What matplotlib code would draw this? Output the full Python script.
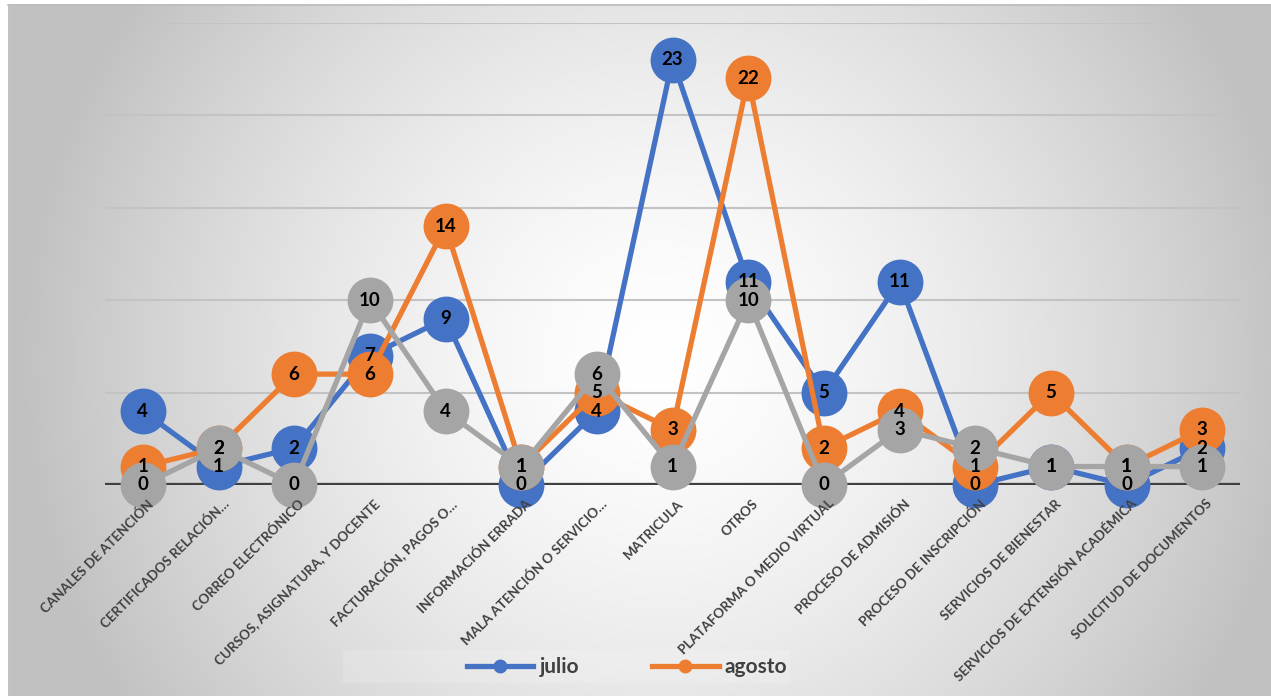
import numpy as np
import matplotlib
matplotlib.use("Agg")
import matplotlib.pyplot as plt
import matplotlib.transforms as mtransforms
from matplotlib.patches import Rectangle
from matplotlib.lines import Line2D

categories = [
    "CANALES DE ATENCIÓN", "CERTIFICADOS RELACIÓN…", "CORREO ELECTRÓNICO",
    "CURSOS, ASIGNATURA, Y DOCENTE", "FACTURACIÓN, PAGOS O…", "INFORMACIÓN ERRADA",
    "MALA ATENCIÓN O SERVICIO…", "MATRICULA", "OTROS", "PLATAFORMA O MEDIO VIRTUAL",
    "PROCESO DE ADMISIÓN", "PROCESO DE INSCRIPCIÓN", "SERVICIOS DE BIENESTAR",
    "SERVICIOS DE EXTENSIÓN ACADÉMICA", "SOLICITUD DE DOCUMENTOS",
]
julio = [4, 1, 2, 7, 9, 0, 4, 23, 11, 5, 11, 0, 1, 0, 2]
agosto = [1, 2, 6, 6, 14, 1, 5, 3, 22, 2, 4, 1, 5, 1, 3]
serie3 = [0, 2, 0, 10, 4, 1, 6, 1, 10, 0, 3, 2, 1, 1, 1]

series = [("julio", julio, "#4472C4"), ("agosto", agosto, "#ED7D31"), ("_serie3", serie3, "#A5A5A5")]

plt.rcParams['font.family'] = ['Lato', 'DejaVu Sans']

W, H = 1271, 696
fig = plt.figure(figsize=(W / 100, H / 100), dpi=100)

# background gradient
bg = fig.add_axes([0, 0, 1, 1], zorder=-10)
xs = np.arange(W)
ys = np.arange(H)
X, Y = np.meshgrid(xs, ys)
cx, cy = 660, 360
dx = (X - cx) / (W / 2)
dy = (Y - cy) / (H / 2)
d = np.clip(np.sqrt(dx ** 2 + (0.55 * dy) ** 2), 0, 1.2)
g = 1.0 - 0.24 * np.clip(d, 0, 1) ** 1.5
img = np.dstack([g, g, g])
img[:4, :, :] = 1.0
img[:, :8, :] = 1.0
bg.imshow(img, extent=[0, W, H, 0], aspect='auto', interpolation='bilinear')
bg.plot([8, W], [4.5, 4.5], color="#bdbdbd", lw=1.2)
bg.plot([8.5, 8.5], [4, H], color="#c4c4c4", lw=1.0)
bg.set_xlim(0, W)
bg.set_ylim(H, 0)
bg.axis('off')

# legend background box
bg.add_patch(Rectangle((343, 650), 447, 33, facecolor="white", alpha=0.15, edgecolor="none"))

left, right = 105, 1240
bottom, top = 485, 23
ax = fig.add_axes([left / W, (H - bottom) / H, (right - left) / W, (bottom - top) / H])
ax.patch.set_alpha(0)
n = len(categories)
x = np.arange(n)
ax.set_xlim(-0.5, n - 0.5)
ax.set_ylim(0, 25)
for s in ax.spines.values():
    s.set_visible(False)
ax.set_yticks([5, 10, 15, 20, 25])
ax.set_yticklabels([])
ax.tick_params(axis='y', length=0)
ax.yaxis.grid(True, color="#c3c3c3", lw=1.5)
ax.yaxis.set_zorder(0.5)
ax.axhline(0, color="#404040", lw=3.8, zorder=1.5)

for i, (name, vals, col) in enumerate(series):
    ax.plot(x, vals, color=col, lw=3.8, marker='o', markersize=32,
            markerfacecolor=col, markeredgecolor=col, zorder=3 + i, clip_on=False, label=name)
for name, vals, col in series:
    for xi, v in zip(x, vals):
        ax.text(xi, v, str(v), ha='center', va='center', fontsize=13.5,
                fontweight='bold', color='black', zorder=20, clip_on=False)

ax.set_xticks(x)
ax.set_xticklabels(categories, rotation=45, ha='right', rotation_mode='anchor',
                   fontsize=9.6, fontweight='bold', color="#404040")
ax.tick_params(axis='x', length=0, pad=9)
ax.xaxis.set_zorder(10)
offset = mtransforms.ScaledTranslation(4 / 100, 0, fig.dpi_scale_trans)
for lab in ax.get_xticklabels():
    lab.set_transform(lab.get_transform() + offset)

handles = [Line2D([0], [0], color=c, lw=3.8, marker='o', markersize=9) for _, _, c in series[:2]]
leg = fig.legend(handles, ["julio", "agosto"], loc='center', bbox_to_anchor=(627 / W, 1 - 667 / H),
                 ncol=2, frameon=False, handlelength=3.2, handletextpad=0.3, columnspacing=3.5,
                 prop={'weight': 'bold', 'size': 15})
for t in leg.get_texts():
    t.set_color("#404040")

fig.savefig("out.png", dpi=100)
